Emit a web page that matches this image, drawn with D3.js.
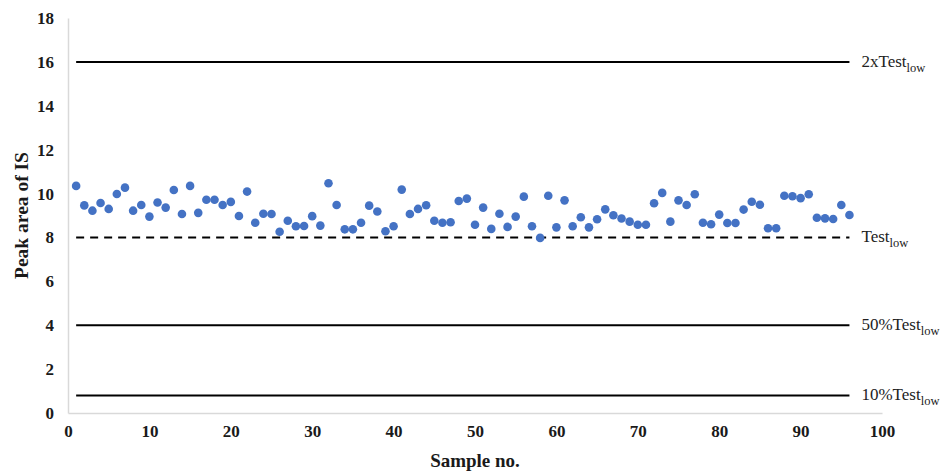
<!DOCTYPE html>
<html>
<head>
<meta charset="utf-8">
<script src="https://cdn.jsdelivr.net/npm/d3@7"></script>
<style>
  html, body { margin: 0; padding: 0; background: #fff; }
  svg { display: block; }
</style>
</head>
<body>
<svg id="chart" width="945" height="475"></svg>
<script>
// Peak area of the internal standard for each sample
const sampleNo = d3.range(1, 97);
const peakArea = [
  10.35, 9.46, 9.22, 9.57, 9.30, 9.98, 10.27, 9.22, 9.48, 8.95,
  9.59, 9.36, 10.16, 9.07, 10.35, 9.12, 9.72, 9.72, 9.48, 9.62,
  8.98, 10.09, 8.67, 9.08, 9.07, 8.26, 8.76, 8.51, 8.52, 8.97,
  8.54, 10.47, 9.48, 8.37, 8.37, 8.67, 9.45, 9.18, 8.28, 8.51,
  10.18, 9.07, 9.30, 9.47, 8.76, 8.67, 8.69, 9.66, 9.77, 8.58,
  9.36, 8.39, 9.08, 8.48, 8.95, 9.86, 8.51, 7.98, 9.90, 8.46,
  9.69, 8.51, 8.92, 8.46, 8.83, 9.28, 9.01, 8.86, 8.72, 8.58,
  8.58, 9.56, 10.03, 8.72, 9.69, 9.48, 9.97, 8.67, 8.60, 9.04,
  8.66, 8.66, 9.27, 9.63, 9.49, 8.42, 8.42, 9.90, 9.88, 9.79,
  9.97, 8.90, 8.87, 8.84, 9.48, 9.02
];

// Reference levels relative to Test_low (= 8)
const refPrefix = ["2xTest", "Test", "50%Test", "10%Test"];
const refValue  = [16, 8, 4, 0.8];
const refDashed = [false, true, false, false];

const xTicks = d3.range(0, 101, 10);
const yTicks = d3.range(0, 19, 2);

const svg = d3.select("#chart");
const margin = { left: 68, right: 63, top: 18, bottom: 62 };
const W = 945, H = 475;

const x = d3.scaleLinear().domain([0, 100]).range([margin.left, W - margin.right]);
const y = d3.scaleLinear().domain([0, 18]).range([H - margin.bottom, margin.top]);

const serif = "'Liberation Serif', 'Times New Roman', serif";

// Axes (light grey lines, no tick marks)
const xAxis = svg.append("g")
  .attr("transform", `translate(0,${y(0)})`)
  .call(d3.axisBottom(x).tickValues(xTicks).tickSize(0).tickPadding(12));
const yAxis = svg.append("g")
  .attr("transform", `translate(${x(0)},0)`)
  .call(d3.axisLeft(y).tickValues(yTicks).tickSize(0).tickPadding(14));

[xAxis, yAxis].forEach(g => {
  g.select(".domain").attr("stroke", "#d9d9d9").attr("stroke-width", 1.5);
  g.selectAll("text")
    .attr("font-family", serif)
    .attr("font-weight", "bold")
    .attr("font-size", 17)
    .attr("fill", "#1a1a1a");
});

// Horizontal reference lines from the first to the last sample
const refs = refValue.map((v, i) => ({ v, prefix: refPrefix[i], dashed: refDashed[i] }));
svg.append("g").selectAll("line")
  .data(refs)
  .join("line")
  .attr("x1", x(sampleNo[0]))
  .attr("x2", x(sampleNo[sampleNo.length - 1]))
  .attr("y1", d => y(d.v))
  .attr("y2", d => y(d.v))
  .attr("stroke", "#000")
  .attr("stroke-width", 2)
  .attr("stroke-dasharray", d => d.dashed ? "8,6" : null);

// Labels for the reference lines, with subscript "low"
const lbl = svg.append("g").selectAll("text")
  .data(refs)
  .join("text")
  .attr("x", x(sampleNo[sampleNo.length - 1]) + 12)
  .attr("y", d => y(d.v) + 5)
  .attr("font-family", serif)
  .attr("font-size", 17)
  .attr("fill", "#222");
lbl.append("tspan").text(d => d.prefix);
lbl.append("tspan")
  .attr("dy", 5)
  .attr("font-size", 12.5)
  .text("low");

// Data points
svg.append("g").selectAll("circle")
  .data(sampleNo.map((s, i) => ({ s, v: peakArea[i] })))
  .join("circle")
  .attr("cx", d => x(d.s))
  .attr("cy", d => y(d.v))
  .attr("r", 4.3)
  .attr("fill", "#4472c4");

// Axis titles
svg.append("text")
  .attr("x", (x(0) + x(100)) / 2)
  .attr("y", 467)
  .attr("text-anchor", "middle")
  .attr("font-family", serif)
  .attr("font-weight", "bold")
  .attr("font-size", 19)
  .attr("fill", "#1a1a1a")
  .text("Sample no.");

svg.append("text")
  .attr("transform", `translate(28,${y(9)}) rotate(-90)`)
  .attr("text-anchor", "middle")
  .attr("font-family", serif)
  .attr("font-weight", "bold")
  .attr("font-size", 19.5)
  .attr("fill", "#1a1a1a")
  .text("Peak area of IS");
</script>
</body>
</html>
